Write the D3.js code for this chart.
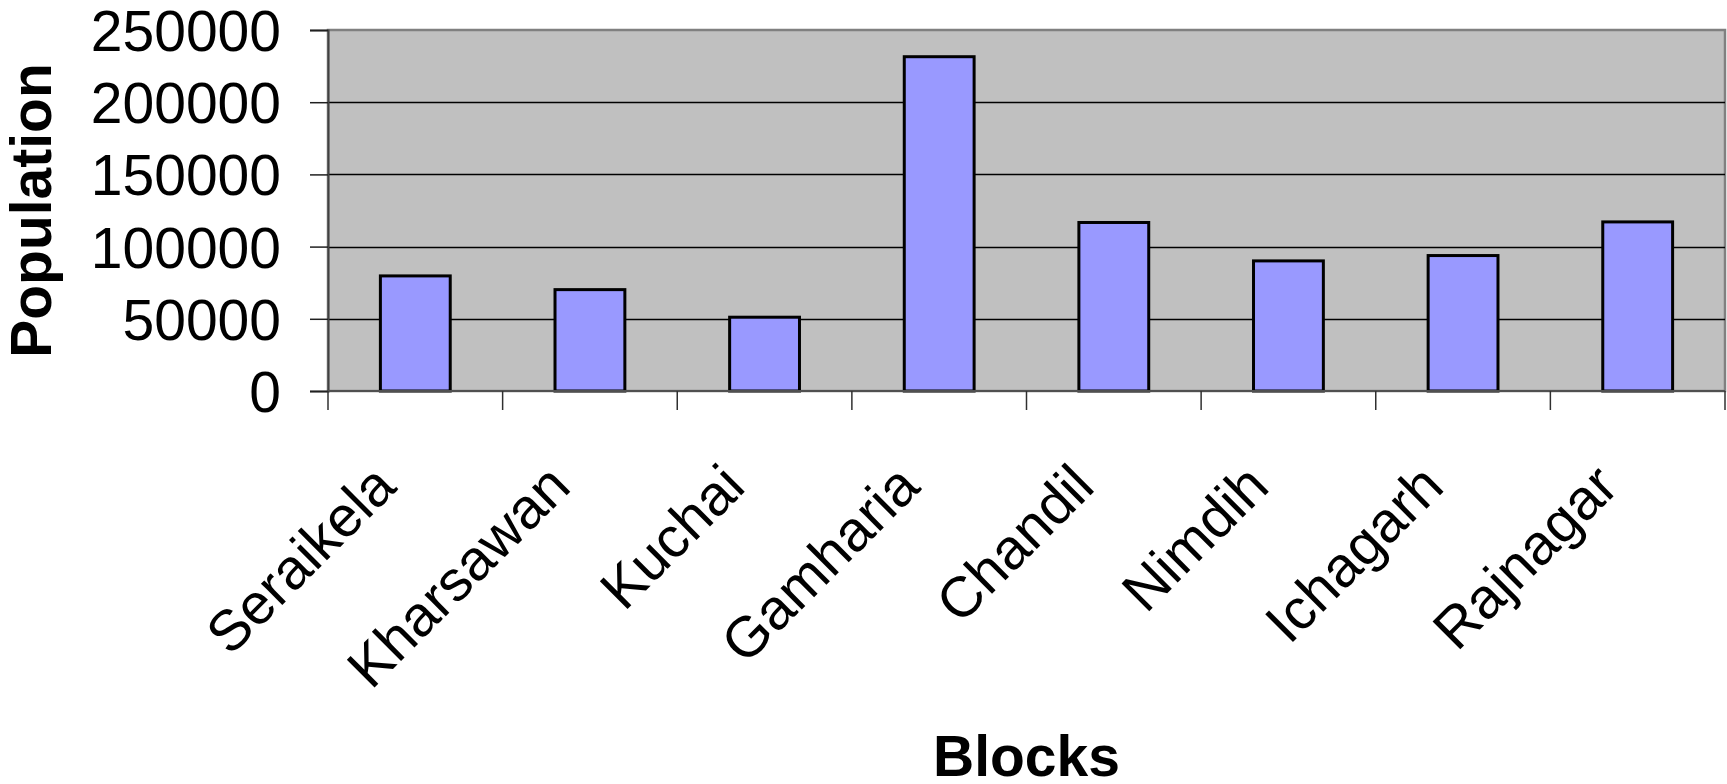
<!DOCTYPE html>
<html>
<head>
<meta charset="utf-8">
<script src="https://cdn.jsdelivr.net/npm/d3@7"></script>
<style>
    body { margin: 0; background: #fff; }
    svg { display: block; font-family: "Liberation Sans", Arial, sans-serif; }
</style>
</head>
<body>
<svg id="chart" width="1727" height="784"></svg>
<script>
var blocks = ["Seraikela", "Kharsawan", "Kuchai", "Gamharia", "Chandil", "Nimdih", "Ichagarh", "Rajnagar"]
var population = [79700, 70200, 51100, 231500, 116700, 90100, 93800, 117100]
var yTicks = [0, 50000, 100000, 150000, 200000, 250000]

var svg = d3.select("#chart")
var plot = { left: 328, right: 1725, top: 30, bottom: 391 }

var x = d3.scaleBand()
    .domain(blocks)
    .range([plot.left, plot.right])
    .paddingInner(0.6)
    .paddingOuter(0.3)

var y = d3.scaleLinear()
    .domain([0, 250000])
    .range([plot.bottom, plot.top])

var data = blocks.map((d, i) => ({ block: d, value: population[i] }))

// plot area
svg.append("rect")
    .attr("x", plot.left)
    .attr("y", plot.top)
    .attr("width", plot.right - plot.left)
    .attr("height", plot.bottom - plot.top)
    .attr("fill", "#c0c0c0")
    .attr("stroke", "#808080")
    .attr("stroke-width", 2.5)

svg.append("g")
    .attr("class", "grid")
    .selectAll("line")
    .data(yTicks.filter(d => d > 0 && d < 250000))
    .enter().append("line")
    .attr("x1", plot.left)
    .attr("x2", plot.right)
    .attr("y1", d => Math.round(y(d)) + 0.5)
    .attr("y2", d => Math.round(y(d)) + 0.5)
    .attr("stroke", "#000")
    .attr("stroke-width", 1.3)

svg.append("g")
    .selectAll("rect")
    .data(data)
    .enter().append("rect")
    .attr("x", d => x(d.block))
    .attr("y", d => y(d.value))
    .attr("width", x.bandwidth())
    .attr("height", d => y(0) - y(d.value))
    .attr("fill", "#9999ff")
    .attr("stroke", "#000")
    .attr("stroke-width", 3)

// y axis
var yAxis = svg.append("g")
    .attr("transform", "translate(" + plot.left + ",0)")
    .call(d3.axisLeft(y).tickValues(yTicks).tickSize(18).tickPadding(29).tickFormat(d3.format("d")))

yAxis.select(".domain").attr("stroke", "#404040").attr("stroke-width", 2)
yAxis.selectAll(".tick line").attr("stroke", "#202020").attr("stroke-width", 1.5)
yAxis.selectAll(".tick text")
    .attr("font-size", 57)
    .attr("fill", "#000")
    .attr("dy", "0.36em")

// x axis: ticks sit on the category boundaries
var xAxis = svg.append("g")
    .attr("transform", "translate(0," + plot.bottom + ")")

xAxis.append("line")
    .attr("x1", plot.left)
    .attr("x2", plot.right)
    .attr("stroke", "#505050")
    .attr("stroke-width", 2)

var bounds = blocks.map(d => x(d) + x.bandwidth() / 2 - x.step() / 2)
bounds.push(plot.right)

xAxis.selectAll(".xtick")
    .data(bounds)
    .enter().append("line")
    .attr("class", "xtick")
    .attr("x1", d => d)
    .attr("x2", d => d)
    .attr("y1", 0)
    .attr("y2", 19)
    .attr("stroke", "#303030")
    .attr("stroke-width", 1.5)

xAxis.selectAll(".xlabel")
    .data(blocks)
    .enter().append("text")
    .attr("class", "xlabel")
    .attr("transform", d => "translate(" + (x(d) + x.bandwidth() / 2 - 17) + ",98) rotate(-45)")
    .attr("text-anchor", "end")
    .attr("font-size", 57)
    .attr("fill", "#000")
    .text(d => d)

// axis titles
svg.append("text")
    .attr("transform", "translate(51," + (plot.top + plot.bottom) / 2 + ") rotate(-90)")
    .attr("text-anchor", "middle")
    .attr("font-size", 57)
    .attr("font-weight", "bold")
    .text("Population")

svg.append("text")
    .attr("x", (plot.left + plot.right) / 2)
    .attr("y", 776)
    .attr("text-anchor", "middle")
    .attr("font-size", 57)
    .attr("font-weight", "bold")
    .text("Blocks")
</script>
</body>
</html>
